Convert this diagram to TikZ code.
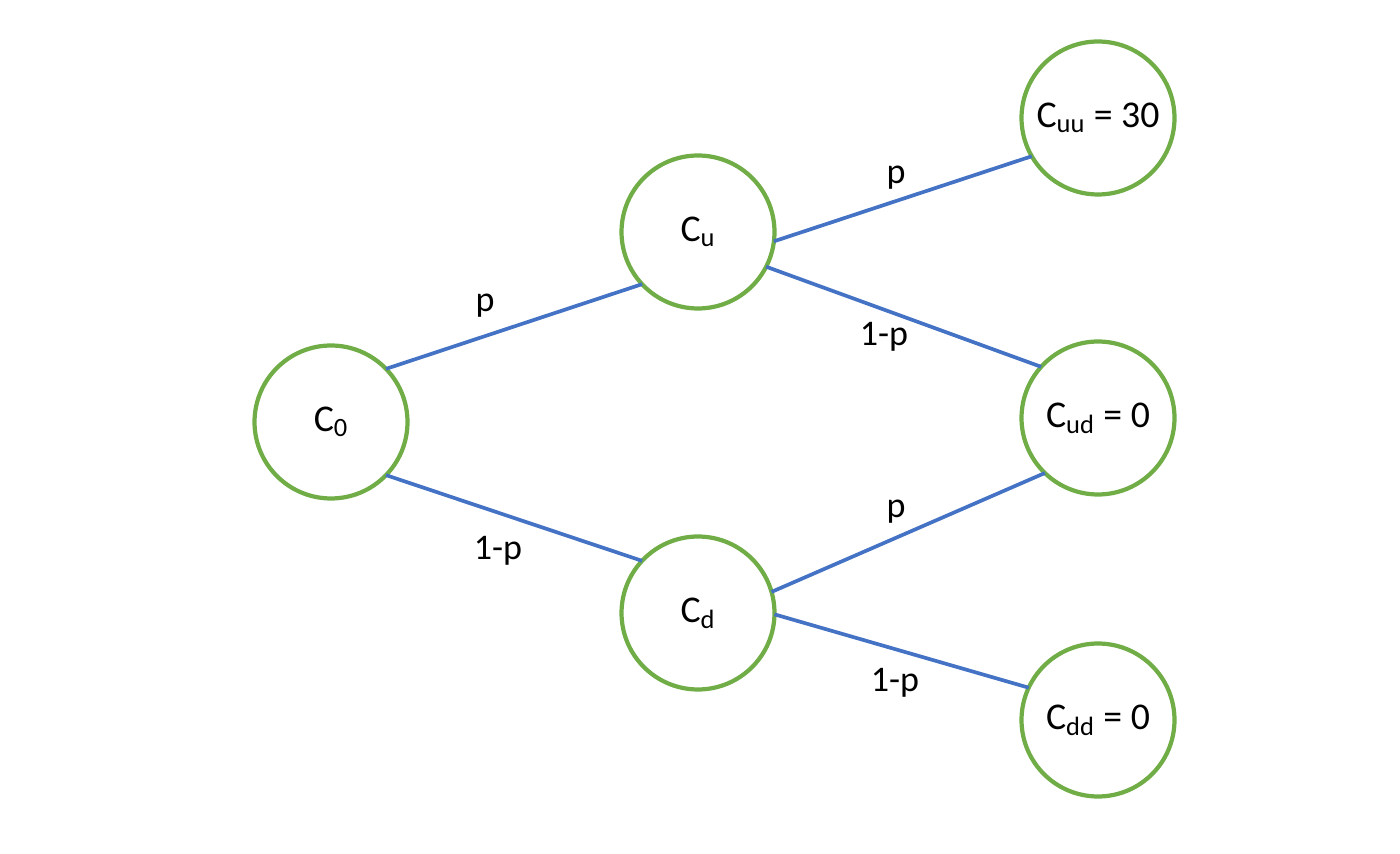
\documentclass[tikz,border=0pt]{standalone}
\usepackage{fontspec}
\setmainfont{Carlito}
\definecolor{nodegreen}{HTML}{70AD47}
\definecolor{edgeblue}{HTML}{4472C4}
\begin{document}
\begin{tikzpicture}[x=0.02cm,y=-0.02cm,
  state/.style={circle,draw=nodegreen,line width=2.4pt,fill=white,minimum size=3.06cm,inner sep=0pt,outer sep=0pt,font=\fontsize{21.5}{25}\selectfont},
  edge/.style={draw=edgeblue,line width=2.1pt},
  prob/.style={font=\fontsize{20.5}{24}\selectfont,inner sep=0pt,anchor=base}]
\useasboundingbox (0,0) rectangle (1400,854);
\node[state] (c0) at (331,422) {C\textsubscript{0}};
\node[state] (cu) at (698,232) {C\textsubscript{u}};
\node[state] (cd) at (698,613) {C\textsubscript{d}};
\node[state] (cuu) at (1098,118) {C\textsubscript{uu} = 30};
\node[state] (cud) at (1098,418) {C\textsubscript{ud} = 0};
\node[state] (cdd) at (1098,720) {C\textsubscript{dd} = 0};
\draw[edge] (c0.44) -- (cu.223);
\draw[edge] (c0.-44) -- (cd.137);
\draw[edge] (cu.-7) -- (cuu.210);
\draw[edge] (cu.-27) -- (cud.138);
\draw[edge] (cd.16) -- (cud.226);
\draw[edge] (cd.-1) -- (cdd.155);
\node[prob] (l1) at (485,312) {p};
\node[prob] (l2) at (498,560) {1-p};
\node[prob] (l3) at (896,184) {p};
\node[prob] (l4) at (884,346) {1-p};
\node[prob] (l5) at (896,518) {p};
\node[prob] (l6) at (895,691) {1-p};
\end{tikzpicture}
\end{document}
